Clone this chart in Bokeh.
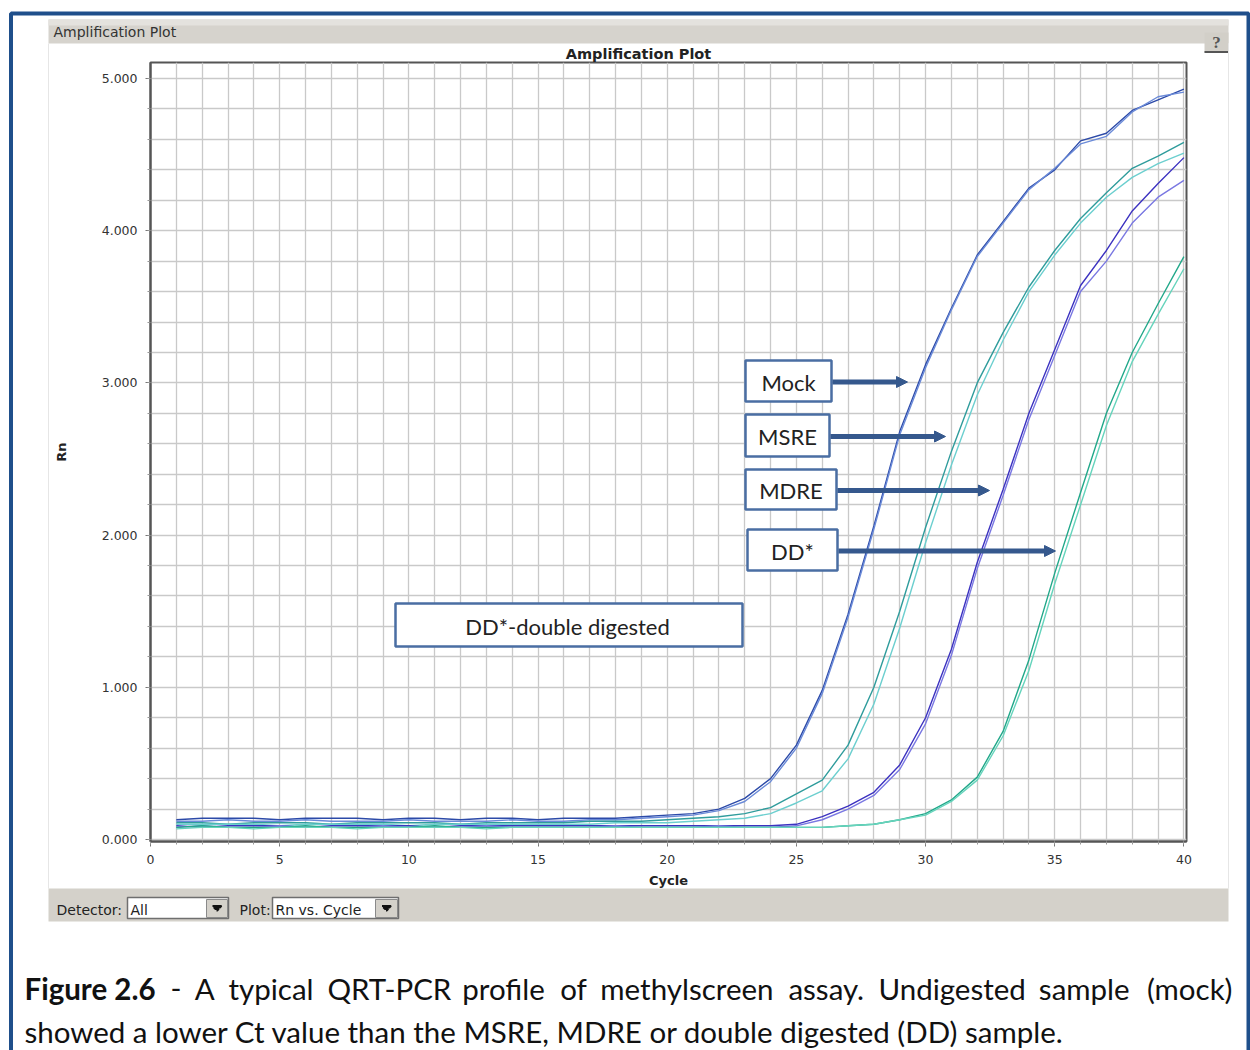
from bokeh.plotting import figure
from bokeh.models import Range1d, PrintfTickFormatter, SingleIntervalTicker, Arrow, NormalHead
from bokeh.core.properties import value
from bokeh.embed import file_html
from bokeh.resources import INLINE

# ---------------- data ----------------
cycles = list(range(1, 41))
mock_a = [0.13, 0.14, 0.14, 0.14, 0.13, 0.14, 0.14, 0.14, 0.13, 0.14, 0.14, 0.13, 0.14, 0.14, 0.13, 0.14, 0.14, 0.14, 0.15,
          0.16, 0.17, 0.20, 0.27, 0.40, 0.62, 0.98, 1.48, 2.06, 2.68, 3.12, 3.49, 3.84, 4.06, 4.28, 4.40, 4.59, 4.64, 4.79, 4.86, 4.93]
mock_b = [0.12, 0.12, 0.13, 0.12, 0.12, 0.13, 0.12, 0.12, 0.12, 0.13, 0.12, 0.12, 0.12, 0.13, 0.12, 0.12, 0.13, 0.13, 0.14,
          0.15, 0.16, 0.19, 0.25, 0.38, 0.60, 0.96, 1.46, 2.04, 2.66, 3.10, 3.48, 3.83, 4.05, 4.27, 4.41, 4.57, 4.62, 4.78, 4.88, 4.91]
msre_a = [0.11, 0.11, 0.10, 0.11, 0.11, 0.11, 0.10, 0.11, 0.11, 0.11, 0.11, 0.10, 0.11, 0.11, 0.11, 0.11, 0.12, 0.12, 0.12,
          0.13, 0.14, 0.15, 0.17, 0.21, 0.30, 0.39, 0.62, 1.00, 1.50, 2.05, 2.55, 3.00, 3.33, 3.63, 3.87, 4.08, 4.25, 4.41, 4.49, 4.58]
msre_b = [0.10, 0.10, 0.10, 0.10, 0.09, 0.10, 0.10, 0.10, 0.10, 0.09, 0.10, 0.10, 0.10, 0.10, 0.10, 0.10, 0.10, 0.11, 0.11,
          0.11, 0.12, 0.13, 0.14, 0.17, 0.24, 0.32, 0.53, 0.89, 1.39, 1.95, 2.46, 2.92, 3.28, 3.60, 3.84, 4.05, 4.22, 4.35, 4.44, 4.51]
mdre_a = [0.09, 0.08, 0.09, 0.09, 0.09, 0.08, 0.09, 0.09, 0.09, 0.09, 0.08, 0.09, 0.09, 0.09, 0.09, 0.09, 0.09, 0.09, 0.09,
          0.09, 0.09, 0.09, 0.09, 0.09, 0.10, 0.15, 0.22, 0.31, 0.49, 0.80, 1.25, 1.82, 2.30, 2.80, 3.22, 3.64, 3.87, 4.13, 4.31, 4.48]
mdre_b = [0.08, 0.09, 0.08, 0.08, 0.09, 0.08, 0.08, 0.08, 0.09, 0.08, 0.08, 0.08, 0.09, 0.08, 0.08, 0.08, 0.08, 0.09, 0.08,
          0.08, 0.08, 0.09, 0.08, 0.08, 0.09, 0.13, 0.20, 0.29, 0.46, 0.76, 1.21, 1.78, 2.26, 2.76, 3.18, 3.60, 3.80, 4.05, 4.22, 4.33]
dd_a = [0.08, 0.09, 0.08, 0.08, 0.08, 0.09, 0.08, 0.08, 0.08, 0.08, 0.09, 0.08, 0.08, 0.08, 0.08, 0.08, 0.08, 0.08, 0.08,
        0.08, 0.08, 0.08, 0.08, 0.08, 0.08, 0.08, 0.09, 0.10, 0.13, 0.17, 0.26, 0.41, 0.71, 1.18, 1.75, 2.28, 2.80, 3.20, 3.52, 3.83]
dd_b = [0.07, 0.08, 0.08, 0.07, 0.08, 0.08, 0.08, 0.07, 0.08, 0.08, 0.08, 0.08, 0.07, 0.08, 0.08, 0.08, 0.08, 0.08, 0.08,
        0.08, 0.08, 0.08, 0.08, 0.08, 0.08, 0.08, 0.09, 0.10, 0.13, 0.16, 0.25, 0.39, 0.68, 1.11, 1.68, 2.20, 2.72, 3.14, 3.45, 3.75]

series = [
    ("Mock 1", mock_a, "#2c4aa8"), ("Mock 2", mock_b, "#6a8ad8"),
    ("MSRE 1", msre_a, "#2f9c9c"), ("MSRE 2", msre_b, "#6ccfcf"),
    ("MDRE 1", mdre_a, "#3c32c0"), ("MDRE 2", mdre_b, "#7a78e2"),
    ("DD 1", dd_a, "#22a88a"), ("DD 2", dd_b, "#66d4bc"),
]

box_labels = ["Mock", "MSRE", "MDRE", "DD*"]
note_label = "DD*-double digested"

caption_bold = "Figure 2.6"
caption_words1 = ["-", "A", "typical", "QRT-PCR", "profile", "of", "methylscreen", "assay.",
                  "Undigested", "sample", "(mock)"]
caption_line2 = "showed a lower Ct value than the MSRE, MDRE or double digested (DD) sample."

# ---------------- figure ----------------
W, H = 1250, 1050
FL, FR, FT, FB = 150, 1186, 62, 841
p = figure(width=W, height=H, x_range=Range1d(0, 40.1), y_range=Range1d(-0.013, 5.105),
           output_backend="svg", toolbar_location=None,
           min_border_left=FL, min_border_right=W - FR, min_border_top=FT, min_border_bottom=H - FB)
p.extra_x_ranges = {"px": Range1d(FL, FR)}
p.extra_y_ranges = {"py": Range1d(FB, FT)}
p.background_fill_color = "white"
p.border_fill_color = "white"
p.outline_line_color = "#555555"
p.outline_line_width = 2

for ax in (p.xaxis, p.yaxis):
    ax.axis_line_color = "#555555"
    ax.axis_line_width = 2
    ax.major_tick_line_color = "#777777"
    ax.minor_tick_line_color = "#999999"
    ax.major_tick_out = 5
    ax.major_tick_in = 0
    ax.minor_tick_out = 3
    ax.minor_tick_in = 0
    ax.major_label_text_font = "DejaVu Sans"
    ax.major_label_text_font_size = "12.5px"
    ax.major_label_text_color = "#333333"
    ax.axis_label_text_font = "DejaVu Sans"
    ax.axis_label_text_font_style = "bold"
    ax.axis_label_text_font_size = "13px"
    ax.axis_label_text_color = "#222222"

p.xaxis.ticker = SingleIntervalTicker(interval=5, num_minor_ticks=5)
p.yaxis.ticker = SingleIntervalTicker(interval=1, num_minor_ticks=5)
p.yaxis.formatter = PrintfTickFormatter(format="%.3f")
p.xaxis.axis_label = "Cycle"
p.yaxis.axis_label = "Rn"
p.xaxis.major_label_standoff = 8
p.xaxis.axis_label_standoff = 6
p.yaxis.major_label_standoff = 8
p.yaxis.axis_label_standoff = 30

p.xgrid.ticker = SingleIntervalTicker(interval=1)
p.ygrid.ticker = SingleIntervalTicker(interval=0.2)
p.xgrid.grid_line_color = "#c9c9c9"
p.ygrid.grid_line_color = "#c9c9c9"
p.xgrid.grid_line_width = 1.3
p.ygrid.grid_line_width = 1.3

for name, ys, col in series:
    p.line(cycles, ys, line_color=col, line_width=1.4)

PX = dict(x_range_name="px", y_range_name="py")

# ---------------- annotation boxes inside the plot ----------------
box_left = [745, 745, 745, 747]
box_right = [831, 829, 836, 837]
box_top = [360, 414, 469, 529]
box_bottom = [401, 456, 509, 570]
arrow_end = [907, 945, 989, 1055]
box_col = "#4a6ea3"
arrow_col = "#35588d"
p.quad(left=box_left, right=box_right, top=box_top, bottom=box_bottom,
       fill_color="white", line_color=box_col, line_width=2.5, **PX)
p.quad(left=[395], right=[742], top=[603], bottom=[646],
       fill_color="white", line_color=box_col, line_width=2.5, **PX)
p.text(x=[(l + r) / 2 for l, r in zip(box_left, box_right)],
       y=[(t + b) / 2 + 1 for t, b in zip(box_top, box_bottom)], text=box_labels,
       text_font=value("Lato"), text_font_size="22px", text_color="#222222",
       text_align="center", text_baseline="middle", **PX)
p.text(x=[567], y=[626], text=[note_label], text_font=value("Lato"), text_font_size="22px",
       text_color="#222222", text_align="center", text_baseline="middle", **PX)
for r, t, b, xe in zip(box_right, box_top, box_bottom, arrow_end):
    yc = (t + b) / 2 + 1
    p.add_layout(Arrow(end=NormalHead(size=11, fill_color=arrow_col, line_color=arrow_col),
                       x_start=r + 1, y_start=yc, x_end=xe, y_end=yc,
                       line_color=arrow_col, line_width=5, **PX))

# ---------------- window decorations outside the plot ----------------
OV = dict(level="overlay", **PX)
p.line(x=[10.5, 10.5, 1248, 1248], y=[1060, 13, 13, 1060], line_color="#1f4f8b", line_width=4, **OV)
p.quad(left=[48], right=[1228], top=[19], bottom=[43], fill_color="#d6d3cd", line_color=None, **OV)
p.quad(left=[48], right=[1228], top=[19], bottom=[25], fill_color="#e4e2de", line_color=None, **OV)
p.text(x=[53], y=[31], text=["Amplification Plot"], text_font=value("DejaVu Sans"), text_font_size="14px",
       text_color="#333333", text_baseline="middle", **OV)
p.quad(left=[1204], right=[1228], top=[32], bottom=[52], fill_color="#d2cfc8", line_color=None, **OV)
p.line(x=[1204, 1228], y=[51.5, 51.5], line_color="#555555", line_width=2, **OV)
p.text(x=[1216], y=[42], text=["?"], text_font=value("Liberation Serif"), text_font_size="17px",
       text_font_style="bold", text_color="#555555", text_align="center", text_baseline="middle", **OV)
p.text(x=[638], y=[53], text=["Amplification Plot"], text_font=value("DejaVu Sans"), text_font_size="14.5px",
       text_font_style="bold", text_color="#222222", text_align="center", text_baseline="middle", **OV)
p.line(x=[48, 48], y=[43, 888], line_color="#e6e6e6", line_width=1, **OV)
p.line(x=[1228, 1228], y=[43, 888], line_color="#e6e6e6", line_width=1, **OV)
p.quad(left=[48], right=[1228], top=[888], bottom=[921], fill_color="#d4d1ca", line_color=None, **OV)
p.text(x=[56, 239], y=[909, 909], text=["Detector:", "Plot:"], text_font=value("DejaVu Sans"),
       text_font_size="14px", text_color="#222222", text_baseline="middle", **OV)
p.quad(left=[127, 272], right=[228, 398], top=[897, 897], bottom=[918, 918], fill_color="white",
       line_color="#6f6f6f", line_width=1.5, **OV)
p.text(x=[130, 275], y=[909, 909], text=["All", "Rn vs. Cycle"], text_font=value("DejaVu Sans"),
       text_font_size="14px", text_color="#222222", text_baseline="middle", **OV)
p.quad(left=[206, 375], right=[227, 397], top=[899, 899], bottom=[917, 917], fill_color="#d4d1ca",
       line_color="#8a8a8a", line_width=1, **OV)
# dropdown arrows drawn as a filled zig-zag stroke (lines are not culled outside the frame)
for c in (216.5, 386):
    p.line(x=[c - 4.5, c + 4.5, c + 3.2, c - 3.2, c - 1.8, c + 1.8, c + 0.5, c - 0.5],
           y=[905.5, 905.5, 907.0, 907.0, 908.5, 908.5, 910.0, 910.0],
           line_color="#111111", line_width=1.8, **OV)

# ---------------- caption (justified first line) ----------------
CAP = 29.5
em = {" ": .26, "-": .35, ".": .22, "(": .31, ")": .31, "A": .68, "C": .66, "P": .59, "Q": .77, "R": .61,
      "T": .56, "U": .71, "a": .51, "c": .47, "d": .57, "e": .53, "f": .33, "g": .51, "h": .57, "i": .25,
      "k": .52, "l": .25, "m": .85, "n": .57, "o": .57, "p": .57, "r": .38, "s": .43, "t": .36, "u": .57,
      "y": .51}
def wpx(word):
    return sum(em.get(ch, .55) for ch in word) * CAP * 0.987

start, end = 156, 1232
widths = [wpx(w) for w in caption_words1]
gap = (end - start - sum(widths)) / len(caption_words1)
xs, cur = [], start + gap
for w in widths:
    xs.append(cur)
    cur += w + gap
p.text(x=[24], y=[988], text=[caption_bold], text_font=value("Lato"), text_font_size=f"{CAP}px",
       text_font_style="bold", text_color="#111111", text_baseline="middle", **OV)
p.text(x=xs[:-1], y=[988] * (len(xs) - 1), text=caption_words1[:-1], text_font=value("Lato"),
       text_font_size=f"{CAP}px", text_color="#111111", text_baseline="middle", **OV)
p.text(x=[end], y=[988], text=[caption_words1[-1]], text_font=value("Lato"), text_font_size=f"{CAP}px",
       text_color="#111111", text_align="right", text_baseline="middle", **OV)
p.text(x=[24], y=[1031], text=[caption_line2], text_font=value("Lato"), text_font_size=f"{CAP}px",
       text_color="#111111", text_baseline="middle", **OV)

open("out.html", "w").write(file_html(p, INLINE))
